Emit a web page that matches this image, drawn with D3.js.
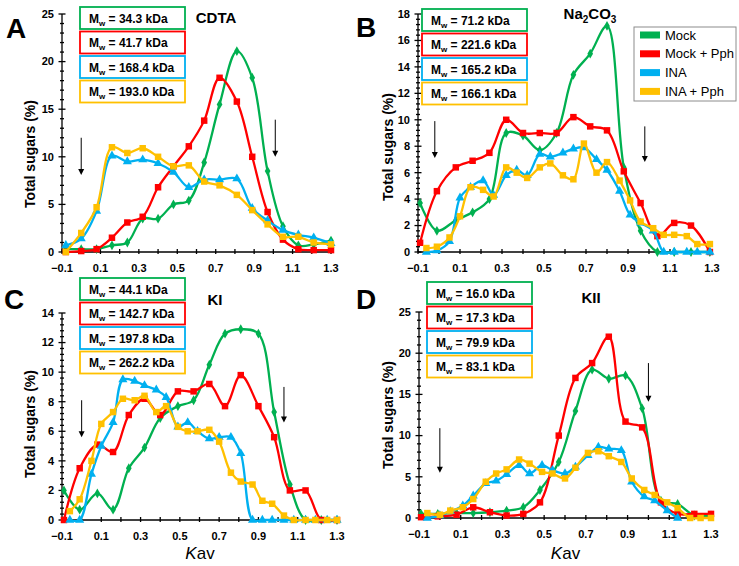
<!DOCTYPE html>
<html>
<head>
<meta charset="utf-8">
<script src="https://cdn.jsdelivr.net/npm/d3@7"></script>
<style>
  html, body { margin: 0; padding: 0; background: #fff; }
  svg { display: block; font-family: "Liberation Sans", Arial, sans-serif; }
</style>
</head>
<body>
<script>
// series
const seriesNames = ['Mock', 'Mock + Pph', 'INA', 'INA + Pph'];
const colors = ['#00b050', '#ff0000', '#00b0f0', '#ffc000'];
const xTicks = [-0.1, 0.1, 0.3, 0.5, 0.7, 0.9, 1.1, 1.3];

// A - CDTA
const kavA = [-0.08, 0.0, 0.08, 0.16, 0.24, 0.32, 0.40, 0.48, 0.56, 0.64, 0.72, 0.81, 0.89, 0.97, 1.05, 1.13, 1.21, 1.30];
const mockA = [0.3, 0.3, 0.3, 0.7, 1.0, 3.5, 3.5, 5.0, 5.4, 9.4, 15.5, 21.1, 18.3, 8.5, 2.7, 0.7, 0.8, 1.2];
const mockPphA = [0.0, 0.1, 0.3, 1.5, 3.1, 3.7, 6.8, 9.0, 11.1, 13.8, 18.3, 15.8, 10.0, 4.2, 1.3, 0.3, 0.2, 0.2];
const inaA = [0.7, 1.4, 4.3, 10.1, 9.5, 9.7, 9.3, 8.4, 6.8, 7.6, 7.6, 7.7, 4.6, 3.3, 2.3, 1.8, 1.5, 0.9];
const inaPphA = [0.0, 2.0, 4.7, 11.0, 10.4, 10.9, 10.0, 9.0, 9.1, 7.4, 7.0, 6.0, 4.4, 2.9, 1.6, 1.6, 1.0, 0.8];
const mwA = ['34.3', '41.7', '168.4', '193.0'];

// B - Na2CO3
const kavB = [-0.09, -0.01, 0.08, 0.16, 0.24, 0.32, 0.40, 0.48, 0.56, 0.64, 0.72, 0.80, 0.88, 0.96, 1.04, 1.12, 1.20, 1.29];
const kavBFine = [-0.06, -0.01, 0.05, 0.10, 0.15, 0.21, 0.26, 0.32, 0.37, 0.42, 0.48, 0.53, 0.59, 0.64, 0.69, 0.75, 0.80, 0.86, 0.91, 0.96, 1.02, 1.07, 1.12, 1.18, 1.23, 1.29];
const mockB = [3.7, 1.6, 2.4, 3.0, 4.0, 9.0, 8.8, 7.7, 9.0, 13.4, 15.0, 17.1, 6.4, 1.6, 0.0, 0.0, 0.0, 0.0];
const mockPphB = [0.7, 4.6, 6.4, 6.9, 7.5, 10.0, 9.0, 9.0, 9.0, 10.2, 9.5, 9.2, 6.1, 3.7, 1.2, 2.2, 2.0, 0.0];
const inaB = [0.0, 0.1, 0.8, 4.1, 4.9, 5.4, 4.3, 5.8, 6.2, 5.8, 7.4, 7.2, 7.5, 7.8, 7.9, 7.0, 6.2, 4.6, 2.8, 2.2, 1.6, 0.0, 0.0, 0.0, 0.0, 0.0];
const inaPphB = [0.3, 0.4, 1.1, 2.7, 4.9, 4.7, 4.2, 6.4, 6.0, 5.6, 6.4, 6.7, 5.8, 5.5, 8.2, 6.0, 6.8, 5.4, 3.9, 2.3, 1.8, 1.3, 1.3, 1.2, 0.6, 0.6];
const mwB = ['71.2', '221.6', '165.2', '166.1'];

// C - KI
const kavC = [-0.09, -0.01, 0.08, 0.16, 0.24, 0.32, 0.40, 0.49, 0.57, 0.65, 0.73, 0.81, 0.90, 0.98, 1.06, 1.14, 1.22, 1.30];
const kavCFine = [-0.06, -0.01, 0.05, 0.10, 0.16, 0.21, 0.27, 0.32, 0.38, 0.43, 0.49, 0.54, 0.59, 0.65, 0.70, 0.76, 0.81, 0.87, 0.92, 0.97, 1.03, 1.08, 1.14, 1.19, 1.25, 1.30];
const mockC = [2.0, 0.7, 1.8, 0.7, 3.5, 4.9, 6.9, 7.7, 8.1, 10.5, 12.6, 12.9, 12.6, 7.3, 2.4, 0.0, 0.0, 0.0];
const mockPphC = [0.0, 3.5, 5.1, 4.6, 7.1, 8.2, 7.1, 8.7, 8.7, 9.2, 7.7, 9.8, 7.7, 5.6, 2.0, 2.0, 0.0, 0.0];
const inaC = [0.0, 0.0, 3.1, 5.0, 6.6, 9.5, 9.4, 9.1, 8.8, 8.3, 6.3, 6.6, 6.0, 5.5, 5.6, 5.6, 4.5, 0.0, 0.0, 0.0, 0.0, 0.0, 0.0, 0.0, 0.0, 0.0];
const inaPphC = [0.6, 1.4, 4.0, 6.5, 7.3, 8.2, 8.1, 8.4, 7.3, 7.7, 6.3, 6.0, 6.0, 6.1, 5.3, 3.2, 2.6, 2.4, 1.3, 1.1, 0.3, 0.0, 0.0, 0.0, 0.0, 0.0];
const mwC = ['44.1', '142.7', '197.8', '262.2'];

// D - KII
const kavD = [-0.09, -0.01, 0.08, 0.16, 0.24, 0.32, 0.40, 0.48, 0.57, 0.65, 0.73, 0.81, 0.89, 0.97, 1.06, 1.14, 1.22, 1.30];
const kavDFine = [-0.06, 0.0, 0.05, 0.11, 0.16, 0.22, 0.27, 0.32, 0.38, 0.43, 0.49, 0.54, 0.60, 0.65, 0.71, 0.76, 0.81, 0.87, 0.92, 0.98, 1.03, 1.09, 1.14, 1.20, 1.25, 1.30];
const mockD = [0.5, 0.5, 0.6, 0.6, 0.7, 0.9, 1.3, 3.4, 6.8, 13.0, 18.0, 16.9, 17.3, 13.3, 2.1, 1.7, 0.3, 0.3];
const mockPphD = [0.1, 0.2, 0.4, 1.3, 0.7, 0.3, 0.5, 1.9, 10.0, 17.0, 18.8, 22.0, 11.7, 11.0, 1.9, 0.5, 0.5, 0.5];
const inaD = [0.0, 0.3, 0.8, 1.5, 2.7, 4.2, 4.5, 5.3, 6.4, 5.4, 6.4, 5.8, 5.4, 6.2, 7.6, 8.6, 8.4, 8.2, 4.4, 2.6, 2.1, 0.9, 0.0];
const inaPphD = [0.6, 0.4, 0.9, 1.3, 2.3, 4.4, 5.4, 5.9, 7.1, 6.6, 5.6, 5.4, 4.8, 6.1, 7.9, 8.1, 7.5, 6.8, 4.8, 3.4, 2.8, 1.9, 1.2, 0.0, 0.0, 0.0];
const mwD = ['16.0', '17.3', '79.9', '83.1'];

// arrows (Vo / Vt): [kav, top value, bottom value]
const arrowsA = [[0.0, 12.0, 8.1], [1.01, 13.9, 10.0]];
const arrowsB = [[-0.02, 9.9, 7.1], [0.98, 9.5, 6.8]];
const arrowsC = [[0.0, 8.1, 5.6], [1.03, 9.0, 6.6]];
const arrowsD = [[0.0, 10.9, 5.5], [1.0, 18.8, 14.1]];

const W = 739, H = 566;
const svg = d3.select('body').append('svg').attr('width', W).attr('height', H);

const panels = [
    { letter: 'A', lx: 6, ly: 38, title: ['CDTA'], tx: 216, ty: 23,
      xr: [62, 331], yr: [252, 14], yMax: 25, yStep: 5,
      xs: [kavA, kavA, kavA, kavA], ys: [mockA, mockPphA, inaA, inaPphA],
      mw: mwA, bx: 80, by: 7, arrows: arrowsA, ytx: 35, yty: 154, kav: false },
    { letter: 'B', lx: 356, ly: 37, title: ['Na', '2', 'CO', '3'], tx: 590, ty: 19,
      xr: [418, 712], yr: [252, 14], yMax: 18, yStep: 2,
      xs: [kavB, kavB, kavBFine, kavBFine], ys: [mockB, mockPphB, inaB, inaPphB],
      mw: mwB, bx: 422, by: 9, arrows: arrowsB, ytx: 393, yty: 147, kav: false },
    { letter: 'C', lx: 4, ly: 309, title: ['KI'], tx: 215, ty: 305,
      xr: [62, 337], yr: [520, 313], yMax: 14, yStep: 2,
      xs: [kavC, kavC, kavCFine, kavCFine], ys: [mockC, mockPphC, inaC, inaPphC],
      mw: mwC, bx: 80, by: 278, arrows: arrowsC, ytx: 35, yty: 424, kav: true },
    { letter: 'D', lx: 356, ly: 309, title: ['KII'], tx: 591, ty: 303,
      xr: [419, 711], yr: [518, 312], yMax: 25, yStep: 5,
      xs: [kavD, kavD, kavDFine, kavDFine], ys: [mockD, mockPphD, inaD, inaPphD],
      mw: mwD, bx: 427, by: 282, arrows: arrowsD, ytx: 393, yty: 415, kav: true }
];

const symbols = [d3.symbolDiamond, d3.symbolSquare, d3.symbolTriangle, d3.symbolSquare];
const symSizes = [28, 42, 36, 42];

function drawPanel(p) {
    const g = svg.append('g');
    const x = d3.scaleLinear().domain([-0.1, 1.3]).range(p.xr);
    const y = d3.scaleLinear().domain([0, p.yMax]).range(p.yr);

    // axes
    const ax = g.append('g').attr('stroke', '#000').attr('stroke-width', 1.3);
    ax.append('line').attr('x1', p.xr[0]).attr('x2', p.xr[1]).attr('y1', y(0)).attr('y2', y(0));
    ax.append('line').attr('x1', p.xr[0]).attr('x2', p.xr[0]).attr('y1', y(0)).attr('y2', y(p.yMax));

    // x ticks every 0.1
    d3.range(-0.1, 1.31, 0.1).forEach(v => {
        ax.append('line').attr('x1', x(v)).attr('x2', x(v)).attr('y1', y(0) - 3).attr('y2', y(0) + 2);
    });
    // y ticks, minor = major / 5
    const minor = p.yStep / 5;
    d3.range(0, p.yMax + minor / 2, minor).forEach((v, i) => {
        const len = i % 5 === 0 ? 3.5 : 2;
        ax.append('line').attr('x1', p.xr[0] - len).attr('x2', p.xr[0] + len).attr('y1', y(v)).attr('y2', y(v));
    });

    g.append('g').selectAll('text').data(xTicks).join('text')
        .attr('x', d => x(d)).attr('y', y(0) + 20)
        .attr('text-anchor', 'middle').attr('font-size', 11).attr('font-weight', 'bold')
        .text(d => d3.format('.1f')(d));
    g.append('g').selectAll('text').data(d3.range(0, p.yMax + 0.1, p.yStep)).join('text')
        .attr('x', p.xr[0] - 8).attr('y', d => y(d)).attr('dy', '0.35em')
        .attr('text-anchor', 'end').attr('font-size', 11).attr('font-weight', 'bold')
        .text(d => d);

    // series
    const line = d3.line().x(d => x(d[0])).y(d => y(d[1])).curve(d3.curveCatmullRom.alpha(0.5));
    p.ys.forEach((vals, s) => {
        const pts = vals.map((v, i) => [p.xs[s][i], v]);
        g.append('path').attr('d', line(pts)).attr('fill', 'none')
            .attr('stroke', colors[s]).attr('stroke-width', 2.3);
        g.append('g').selectAll('path').data(pts).join('path')
            .attr('transform', d => `translate(${x(d[0])},${y(d[1])})`)
            .attr('d', d3.symbol(symbols[s], symSizes[s]))
            .attr('fill', colors[s]);
    });

    // arrows
    p.arrows.forEach(a => {
        const ax0 = x(a[0]);
        g.append('line').attr('x1', ax0).attr('x2', ax0).attr('y1', y(a[1])).attr('y2', y(a[2]) - 5)
            .attr('stroke', '#000').attr('stroke-width', 1);
        g.append('path')
            .attr('d', `M${ax0 - 3},${y(a[2]) - 6}L${ax0 + 3},${y(a[2]) - 6}L${ax0},${y(a[2])}Z`)
            .attr('fill', '#000');
    });

    // Mw boxes
    p.mw.forEach((m, i) => {
        const top = p.by + i * 24.5;
        g.append('rect').attr('x', p.bx).attr('y', top).attr('width', 105).attr('height', 22)
            .attr('fill', '#fff').attr('stroke', colors[i]).attr('stroke-width', 1.8);
        const t = g.append('text').attr('x', p.bx + 9).attr('y', top + 15.5)
            .attr('font-size', 12).attr('font-weight', 'bold');
        t.append('tspan').text('M');
        t.append('tspan').attr('font-size', 8).attr('dy', 3).text('w');
        t.append('tspan').attr('dy', -3).text(` = ${m} kDa`);
    });

    // panel letter and title
    g.append('text').attr('x', p.lx).attr('y', p.ly).attr('font-size', 28).attr('font-weight', 'bold').text(p.letter);
    const tt = g.append('text').attr('x', p.tx).attr('y', p.ty).attr('text-anchor', 'middle')
        .attr('font-size', 15).attr('font-weight', 'bold');
    p.title.forEach((s, i) => {
        if (i % 2 === 1) tt.append('tspan').attr('font-size', 10).attr('dy', 4).text(s);
        else tt.append('tspan').attr('dy', i > 0 ? -4 : 0).text(s);
    });

    // axis titles
    g.append('text').attr('transform', `translate(${p.ytx},${p.yty}) rotate(-90)`)
        .attr('text-anchor', 'middle').attr('font-size', 14).attr('font-weight', 'bold')
        .text('Total sugars (%)');
    if (p.kav) {
        const kt = g.append('text').attr('x', (p.xr[0] + p.xr[1]) / 2 + 0.5).attr('y', 559)
            .attr('text-anchor', 'middle').attr('font-size', 17);
        kt.append('tspan').attr('font-style', 'italic').text('K');
        kt.append('tspan').text('av');
    }
}

panels.forEach(drawPanel);

// legend (panel B)
const leg = svg.append('g');
leg.append('rect').attr('x', 634).attr('y', 27).attr('width', 102).attr('height', 74)
    .attr('fill', '#fff').attr('stroke', '#8c8c8c').attr('stroke-width', 1);
seriesNames.forEach((n, i) => {
    const cy = 35 + i * 18.8;
    leg.append('rect').attr('x', 640).attr('y', cy - 3.5).attr('width', 20).attr('height', 7).attr('fill', colors[i]);
    leg.append('text').attr('x', 665).attr('y', cy).attr('dy', '0.35em').attr('font-size', 13).text(n);
});
</script>
</body>
</html>
